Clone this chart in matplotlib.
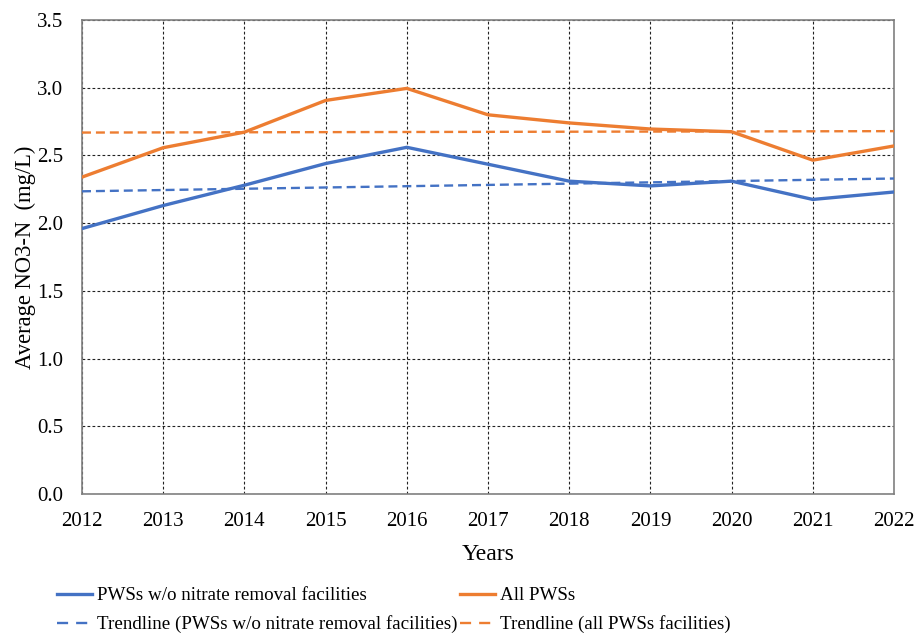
import numpy as np
import matplotlib
matplotlib.use("Agg")
import matplotlib.pyplot as plt
from matplotlib.lines import Line2D

# data
years = [2012, 2013, 2014, 2015, 2016, 2017, 2018, 2019, 2020, 2021, 2022]
no_removal = [1.96, 2.13, 2.28, 2.44, 2.56, 2.435, 2.31, 2.275, 2.31, 2.175, 2.23]
all_pws = [2.34, 2.557, 2.672, 2.906, 2.995, 2.80, 2.74, 2.695, 2.675, 2.465, 2.57]
y_ticks = [0.0, 0.5, 1.0, 1.5, 2.0, 2.5, 3.0, 3.5]

blue = "#4472C4"
orange = "#ED7D31"

plt.rcParams["font.family"] = ["Liberation Serif", "DejaVu Serif"]

fig = plt.figure(figsize=(9.17, 6.33), dpi=100)
ax = fig.add_axes([82 / 917, 1 - 494 / 633, (894 - 82) / 917, (494 - 20) / 633])

x = np.array(years)
# linear trendlines fitted to each series
fit1 = np.polyval(np.polyfit(x, no_removal, 1), x)
fit2 = np.polyval(np.polyfit(x, all_pws, 1), x)

l1, = ax.plot(x, no_removal, color=blue, lw=2.4, zorder=4)
l2, = ax.plot(x, all_pws, color=orange, lw=2.4, zorder=4)
ax.plot(x, fit1, color=blue, lw=1.7, ls=(0, (3.8, 2.1)), zorder=3)
ax.plot(x, fit2, color=orange, lw=1.7, ls=(0, (3.8, 2.1)), zorder=3)

ax.set_xlim(2012, 2022)
ax.set_ylim(0, 3.5)
ax.set_xticks(years)
ax.set_yticks(y_ticks)
ax.set_yticklabels([f"{v:.1f}" for v in y_ticks])
ax.tick_params(length=0, labelsize=15)
ax.tick_params(axis="x", pad=13)
ax.tick_params(axis="y", pad=13.5)

ax.grid(True, color="#222222", ls=(0, (2.5, 2)), lw=0.8)
for s in ax.spines.values():
    s.set_color("#808080")
    s.set_linewidth(1.2)

ax.set_xlabel("Years", fontsize=17, labelpad=9)
ax.set_ylabel("Average NO3-N  (mg/L)", fontsize=16.3, labelpad=1)

# legend proxies for the trendlines (two long dashes like the reference)
t1 = Line2D([], [], color=blue, lw=1.7, ls=(0, (4.7, 3.4)))
t2 = Line2D([], [], color=orange, lw=1.7, ls=(0, (4.7, 3.4)))

# legend fills column-wise: solid + trend of each series stacked
fig.legend([l1, t1, l2, t2],
           ["PWSs w/o nitrate removal facilities",
            "Trendline (PWSs w/o nitrate removal facilities)",
            "All PWSs",
            "Trendline (all PWSs facilities)"],
           loc="upper left", bbox_to_anchor=(57 / 917, 1 - 587 / 633), ncol=2, frameon=False,
           fontsize=13.7, handlelength=1.84, handletextpad=0.26, columnspacing=0.15,
           labelspacing=0.58, borderpad=0, borderaxespad=0)

fig.savefig("out.png", dpi=100)
